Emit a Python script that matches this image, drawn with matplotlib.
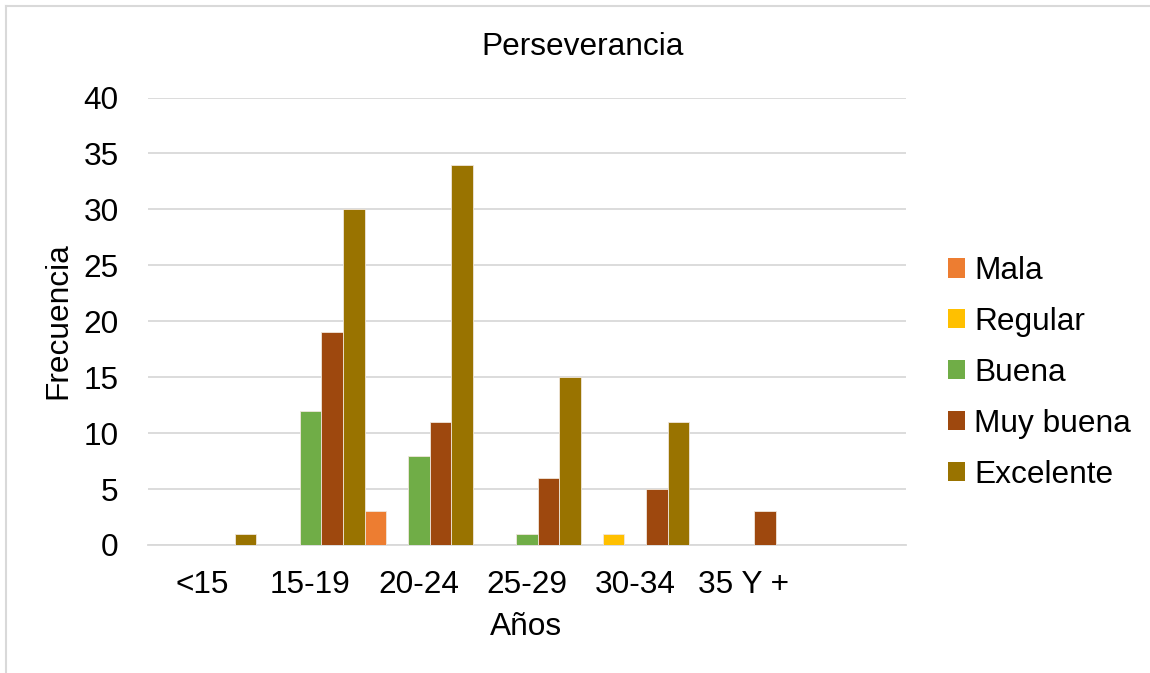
import matplotlib
matplotlib.use("Agg")
import matplotlib.pyplot as plt
from matplotlib.lines import Line2D
from matplotlib.patches import Patch
import numpy as np

plt.rcParams['font.family'] = ['Liberation Sans', 'DejaVu Sans']

categories = ["<15", "15-19", "20-24", "25-29", "30-34", "35 Y +", ""]
series_names = ["Mala", "Regular", "Buena", "Muy buena", "Excelente"]
mala = [0, 0, 3, 0, 0, 0, 0]
regular = [0, 0, 0, 0, 1, 0, 0]
buena = [0, 12, 8, 1, 0, 0, 0]
muy_buena = [0, 19, 11, 6, 5, 3, 0]
excelente = [1, 30, 34, 15, 11, 0, 0]
colors = ["#ED7D31", "#FFC000", "#70AD47", "#9E480E", "#997300"]
title = "Perseverancia"
ylabel = "Frecuencia"
xlabel = "Años"

W, H = 1150, 673
fig = plt.figure(figsize=(W / 100, H / 100), dpi=100)

x0, x1 = 148, 906
y_top, y_bot = 97.5, 545
ax = fig.add_axes([x0 / W, 1 - y_bot / H, (x1 - x0) / W, (y_bot - y_top) / H])

n = len(series_names)
bw = 1.0 / n
x = np.arange(len(categories))
all_series = [mala, regular, buena, muy_buena, excelente]
for i, (vals, c) in enumerate(zip(all_series, colors)):
    ax.bar(x - 0.5 + bw * (i + 0.5), vals, width=bw, color=c,
           edgecolor="#f0e6dc", linewidth=0.6, zorder=3)

ax.set_xlim(-0.5, len(categories) - 0.5)
ax.set_ylim(0, 40)
ax.set_yticks(np.arange(0, 41, 5))
ax.set_xticks(x)
ax.set_xticklabels(categories)
ax.grid(axis="y", color="#D9D9D9", linewidth=1.3, zorder=0)
ax.set_axisbelow(True)
for s in ["top", "right", "left"]:
    ax.spines[s].set_visible(False)
ax.spines["bottom"].set_color("#D9D9D9")
ax.spines["bottom"].set_linewidth(1.3)
ax.tick_params(axis="both", length=0, labelsize=22.8, colors="black")
ax.tick_params(axis="y", pad=21)
ax.tick_params(axis="x", pad=18)

fig.text(583 / W, 1 - 47 / H, title, ha="center", va="center", fontsize=22.8)
fig.text(58 / W, 1 - 321 / H, ylabel, ha="center", va="center", rotation=90, fontsize=22.8)
fig.text(526 / W, 1 - 627 / H, xlabel, ha="center", va="center", fontsize=22.8)

handles = [Patch(facecolor=c, edgecolor="none") for c in colors]
leg = fig.legend(handles, series_names, loc="center left",
                 bbox_to_anchor=(948 / W, 1 - 373 / H), frameon=False,
                 fontsize=22.8, handlelength=0.55, handleheight=0.55,
                 handletextpad=0.28, labelspacing=0.66, borderpad=0,
                 borderaxespad=0)

# chart border (left/top)
fig.add_artist(Line2D([5.5 / W, 1.0], [1 - 5.5 / H, 1 - 5.5 / H], color="#D9D9D9", linewidth=1.5))
fig.add_artist(Line2D([5.5 / W, 5.5 / W], [0, 1 - 5.5 / H], color="#D9D9D9", linewidth=1.5))

fig.savefig("out.png", dpi=100)
